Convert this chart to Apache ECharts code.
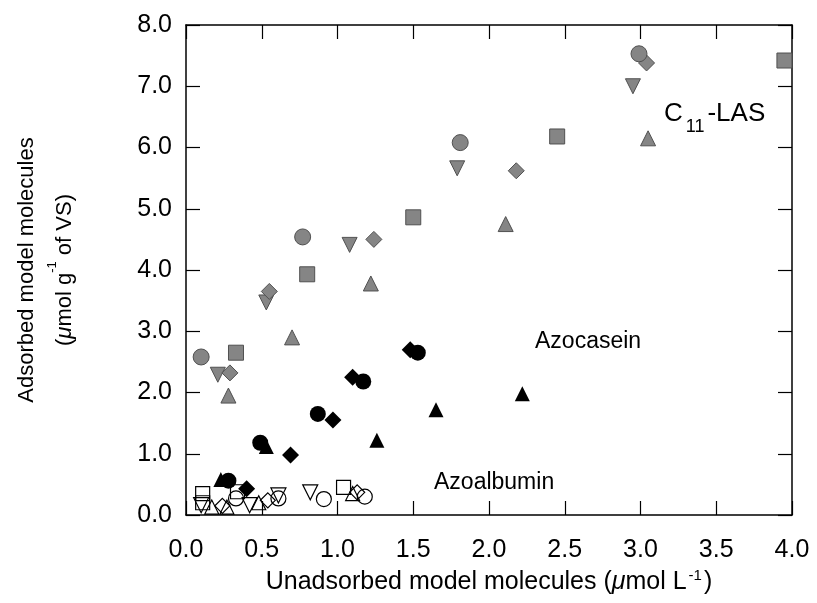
<!DOCTYPE html>
<html>
<head>
<meta charset="utf-8">
<script src="https://cdn.jsdelivr.net/npm/echarts@6/dist/echarts.min.js"></script>
<style>
    html, body { margin: 0; padding: 0; background: #fff; }
    #chart { width: 817px; height: 603px; }
</style>
</head>
<body>
<div id="chart"></div>
<script>
    // x/y ticks
    var xTicks = [0.0, 0.5, 1.0, 1.5, 2.0, 2.5, 3.0, 3.5, 4.0];
    var yTicks = [0, 1, 2, 3, 4, 5, 6, 7, 8];

    // C11-LAS (grey markers)
    var lasCircle = [[0.10, 2.58], [0.77, 4.54], [1.81, 6.08], [2.99, 7.53]];
    var lasSquare = [[0.33, 2.65], [0.80, 3.93], [1.50, 4.86], [2.45, 6.18], [3.95, 7.42]];
    var lasDown = [[0.21, 2.29], [0.53, 3.47], [1.08, 4.41], [1.79, 5.66], [2.95, 7.00]];
    var lasDiamond = [[0.29, 2.32], [0.55, 3.65], [1.24, 4.50], [2.18, 5.62], [3.04, 7.38]];
    var lasTriangle = [[0.28, 1.95], [0.70, 2.90], [1.22, 3.78], [2.11, 4.75], [3.05, 6.15]];

    // Azocasein (black markers)
    var caseinDiamond = [[0.40, 0.43], [0.69, 0.98], [0.97, 1.55], [1.10, 2.25], [1.48, 2.70]];
    var caseinCircle = [[0.28, 0.56], [0.49, 1.18], [0.87, 1.65], [1.17, 2.18], [1.53, 2.65]];
    var caseinTriangle = [[0.23, 0.58], [0.53, 1.12], [1.26, 1.22], [1.65, 1.72], [2.22, 1.98]];

    // Azoalbumin (open markers)
    var albSquare = [[0.11, 0.35], [0.11, 0.20], [0.34, 0.38], [1.04, 0.45]];
    var albCircle = [[0.33, 0.27], [0.61, 0.27], [0.91, 0.26], [1.18, 0.30]];
    var albDown = [[0.10, 0.16], [0.42, 0.16], [0.61, 0.32], [0.82, 0.37]];
    var albTriangle = [[0.17, 0.13], [0.27, 0.13], [0.48, 0.20], [1.10, 0.35]];
    var albDiamond = [[0.24, 0.15], [0.54, 0.24], [1.13, 0.37]];

    var grey = { color: '#858585', borderColor: '#505050', borderWidth: 1, opacity: 1 };
    var black = { color: '#000', opacity: 1 };
    var open = { color: 'rgba(0,0,0,0)', borderColor: '#000', borderWidth: 1.2, opacity: 1 };

    function sc(data, symbol, size, style, rotate) {
        return {
            type: 'scatter',
            data: data,
            symbol: symbol,
            symbolSize: size,
            symbolRotate: rotate || 0,
            itemStyle: style,
            silent: true
        };
    }

    var font = 'Liberation Sans';
    var tickLine = { color: '#000', width: 1.2 };
    var frameLine = { color: '#000', width: 1.5 };
    var fmt = function (v) { return v.toFixed(1); };

    var chart = echarts.init(document.getElementById('chart'));
    chart.setOption({
        backgroundColor: '#fff',
        animation: false,
        grid: { left: 186, right: 25, top: 25, bottom: 88, containLabel: false, outerBoundsMode: 'none' },
        xAxis: [{
            type: 'value', min: 0, max: 4, interval: 0.5,
            axisLine: { lineStyle: frameLine },
            axisTick: { inside: true, length: 14, lineStyle: tickLine },
            splitLine: { show: false },
            axisLabel: { margin: 23, formatter: fmt, fontFamily: font, fontSize: 25, color: '#000' },
            name: '{t|Unadsorbed model molecules (}{i|μ}{t|mol L}{s|-1}{t|)}',
            nameLocation: 'middle', nameGap: 53,
            nameTextStyle: {
                rich: {
                    t: { fontFamily: font, fontSize: 25, color: '#000' },
                    i: { fontFamily: font, fontSize: 25, fontStyle: 'italic', color: '#000' },
                    s: { fontFamily: font, fontSize: 15, color: '#000', verticalAlign: 'top', padding: [0, 2, 14, 2] }
                }
            }
        }, {
            type: 'value', position: 'top', min: 0, max: 4, interval: 0.5,
            axisLine: { show: true, onZero: false, lineStyle: frameLine },
            axisTick: { show: true, inside: true, length: 14, lineStyle: tickLine },
            axisLabel: { show: false }, splitLine: { show: false }
        }],
        yAxis: [{
            type: 'value', min: 0, max: 8, interval: 1,
            axisLine: { lineStyle: frameLine },
            axisTick: { inside: true, length: 14, lineStyle: tickLine },
            splitLine: { show: false },
            axisLabel: { margin: 14, formatter: fmt, fontFamily: font, fontSize: 25, color: '#000' },
            name: '{t|Adsorbed model molecules}\n{t|(}{i|μ}{t|mol g}{s|-1}{t| of VS)}',
            nameLocation: 'middle', nameGap: 102,
            nameTextStyle: {
                lineHeight: 38,
                rich: {
                    t: { fontFamily: font, fontSize: 22, color: '#000', lineHeight: 38 },
                    i: { fontFamily: font, fontSize: 22, fontStyle: 'italic', color: '#000', lineHeight: 38 },
                    s: { fontFamily: font, fontSize: 13, color: '#000', lineHeight: 38, verticalAlign: 'top', padding: [0, 0, 12, 0] }
                }
            }
        }, {
            type: 'value', position: 'right', min: 0, max: 8, interval: 1,
            axisLine: { show: true, onZero: false, lineStyle: frameLine },
            axisTick: { show: true, inside: true, length: 14, lineStyle: tickLine },
            axisLabel: { show: false }, splitLine: { show: false }
        }],
        graphic: [
            {
                type: 'text', left: 664, top: 92,
                style: {
                    text: '{b|C}{s|11}{b|-LAS}',
                    rich: {
                        b: { fontFamily: font, fontSize: 26, fill: '#000', lineHeight: 30 },
                        s: { fontFamily: font, fontSize: 18, fill: '#000', lineHeight: 30, padding: [26, 3, 0, 3] }
                    }
                }
            },
            {
                type: 'text', left: 535, top: 330,
                style: { text: 'Azocasein', fontFamily: font, fontSize: 23, fill: '#000' }
            },
            {
                type: 'text', left: 434, top: 471,
                style: { text: 'Azoalbumin', fontFamily: font, fontSize: 23, fill: '#000' }
            }
        ],
        series: [
            sc(albSquare, 'rect', 14, open),
            sc(albCircle, 'circle', 15, open),
            sc(albDown, 'triangle', 15, open, 180),
            sc(albTriangle, 'triangle', 14, open),
            sc(albDiamond, 'diamond', 15, open),
            sc(caseinDiamond, 'diamond', 17, black),
            sc(caseinTriangle, 'triangle', 15, black),
            sc(caseinCircle, 'circle', 16, black),
            sc(lasTriangle, 'triangle', 15, grey),
            sc(lasDown, 'triangle', 15, grey, 180),
            sc(lasDiamond, 'diamond', 16, grey),
            sc(lasSquare, 'rect', 15, grey),
            sc(lasCircle, 'circle', 16, grey)
        ]
    });
</script>
</body>
</html>
